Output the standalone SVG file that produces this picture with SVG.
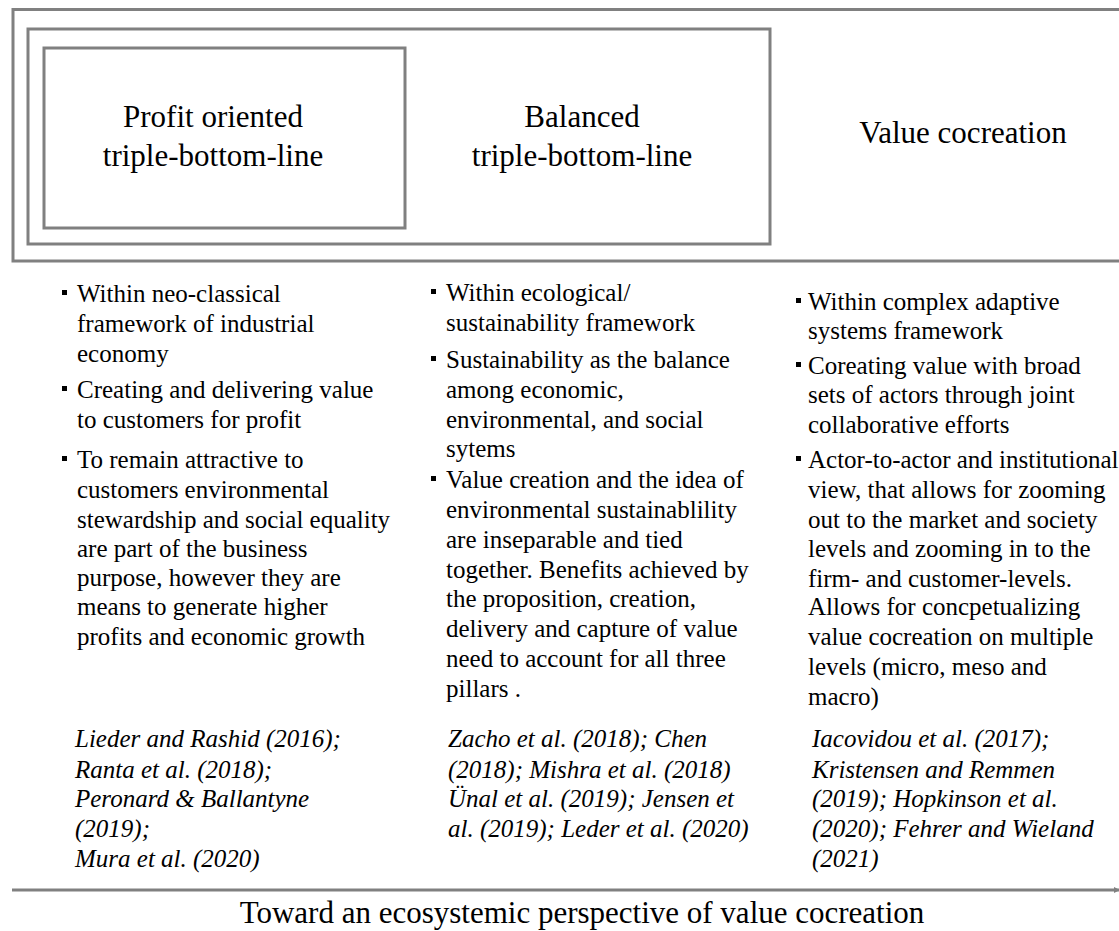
<svg xmlns="http://www.w3.org/2000/svg" width="1119" height="931" viewBox="0 0 1119 931">
<style>
.box{fill:none;stroke:#808080;stroke-width:3}
.h{font-family:"Liberation Serif","Times New Roman",serif;font-size:31px;fill:#000;text-anchor:middle}
.b{font-family:"Liberation Serif","Times New Roman",serif;font-size:25px;fill:#000}
.c{font-family:"Liberation Serif","Times New Roman",serif;font-size:25px;font-style:italic;fill:#000}
.bul{fill:#000}
</style>
<defs>
<marker id="arr" markerWidth="6" markerHeight="6" refX="5" refY="3" orient="auto" markerUnits="userSpaceOnUse">
<path d="M0,0 L6,3 L0,6 Z" fill="#808080"/>
</marker>
</defs>
<rect width="1119" height="931" fill="#fff"/>
<g id="value-cocreation">
<rect class="box" x="13" y="9.5" width="1120" height="251.5"/>
<text class="h" x="963" y="143">Value cocreation</text>
</g>
<g id="balanced">
<rect class="box" x="28" y="29" width="742" height="215"/>
<text class="h" x="582" y="127">Balanced</text>
<text class="h" x="582" y="166">triple-bottom-line</text>
</g>
<g id="profit-oriented">
<rect class="box" x="44" y="48" width="361" height="180"/>
<text class="h" x="213" y="127">Profit oriented</text>
<text class="h" x="213" y="166">triple-bottom-line</text>
</g>
<g id="col1">
<rect class="bul" x="62" y="290" width="5" height="5"/>
<rect class="bul" x="62" y="386" width="5" height="5"/>
<rect class="bul" x="62" y="456" width="5" height="5"/>
<text class="b">
<tspan x="77" y="302">Within neo-classical</tspan>
<tspan x="77" y="332">framework of industrial</tspan>
<tspan x="77" y="362">economy</tspan>
<tspan x="77" y="398">Creating and delivering value</tspan>
<tspan x="77" y="428">to customers for profit</tspan>
<tspan x="77" y="468">To remain attractive to</tspan>
<tspan x="77" y="498">customers environmental</tspan>
<tspan x="77" y="528">stewardship and social equality</tspan>
<tspan x="77" y="557">are part of the business</tspan>
<tspan x="77" y="586">purpose, however they are</tspan>
<tspan x="77" y="615">means to generate higher</tspan>
<tspan x="77" y="645">profits and economic growth</tspan>
</text>
<text class="c">
<tspan x="75" y="747">Lieder and Rashid (2016);</tspan>
<tspan x="75" y="778">Ranta et al. (2018);</tspan>
<tspan x="75" y="807">Peronard &amp; Ballantyne</tspan>
<tspan x="75" y="837">(2019);</tspan>
<tspan x="75" y="867">Mura et al. (2020)</tspan>
</text>
</g>
<g id="col2">
<rect class="bul" x="431" y="289" width="5" height="5"/>
<rect class="bul" x="431" y="356" width="5" height="5"/>
<rect class="bul" x="431" y="476" width="5" height="5"/>
<text class="b">
<tspan x="446" y="301">Within ecological/</tspan>
<tspan x="446" y="331">sustainability framework</tspan>
<tspan x="446" y="368">Sustainability as the balance</tspan>
<tspan x="446" y="398">among economic,</tspan>
<tspan x="446" y="428">environmental,  and social</tspan>
<tspan x="446" y="457">sytems</tspan>
<tspan x="446" y="488">Value creation and the idea of</tspan>
<tspan x="446" y="518">environmental  sustainablility</tspan>
<tspan x="446" y="548">are inseparable and tied</tspan>
<tspan x="446" y="578">together. Benefits achieved by</tspan>
<tspan x="446" y="607">the proposition, creation,</tspan>
<tspan x="446" y="637">delivery and capture of value</tspan>
<tspan x="446" y="667">need to account for all three</tspan>
<tspan x="446" y="697">pillars .</tspan>
</text>
<text class="c">
<tspan x="448" y="747">Zacho et al. (2018); Chen</tspan>
<tspan x="448" y="778">(2018); Mishra et al. (2018)</tspan>
<tspan x="448" y="807">Ünal et al. (2019); Jensen et</tspan>
<tspan x="448" y="837">al. (2019); Leder et al. (2020)</tspan>
</text>
</g>
<g id="col3">
<rect class="bul" x="796" y="298" width="5" height="5"/>
<rect class="bul" x="796" y="362" width="5" height="5"/>
<rect class="bul" x="796" y="456" width="5" height="5"/>
<text class="b">
<tspan x="808" y="310">Within complex adaptive</tspan>
<tspan x="808" y="339">systems framework</tspan>
<tspan x="808" y="374">Coreating value with broad</tspan>
<tspan x="808" y="403">sets of actors through joint</tspan>
<tspan x="808" y="433">collaborative efforts</tspan>
<tspan x="808" y="468">Actor-to-actor and institutional</tspan>
<tspan x="808" y="498">view, that allows for zooming</tspan>
<tspan x="808" y="528">out to the market and society</tspan>
<tspan x="808" y="557">levels and zooming in to the</tspan>
<tspan x="808" y="587">firm- and customer-levels.</tspan>
<tspan x="808" y="615">Allows for concpetualizing</tspan>
<tspan x="808" y="645">value cocreation on multiple</tspan>
<tspan x="808" y="675">levels (micro, meso and</tspan>
<tspan x="808" y="705">macro)</tspan>
</text>
<text class="c">
<tspan x="812" y="747">Iacovidou et al. (2017);</tspan>
<tspan x="812" y="778">Kristensen and Remmen</tspan>
<tspan x="812" y="807">(2019); Hopkinson et al.</tspan>
<tspan x="812" y="837">(2020); Fehrer and Wieland</tspan>
<tspan x="812" y="867">(2021)</tspan>
</text>
</g>
<g id="connectors">
<line x1="12" y1="890" x2="1119" y2="890" stroke="#808080" stroke-width="3" marker-end="url(#arr)"/>
</g>
<g id="axis-label">
<text class="h" x="582" y="923">Toward an ecosystemic perspective of value cocreation</text>
</g>
</svg>
